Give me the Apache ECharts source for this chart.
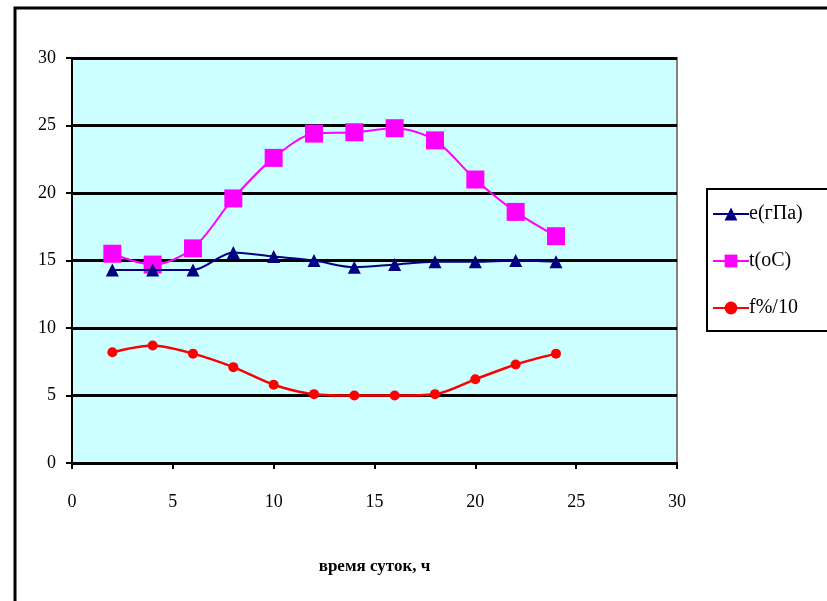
<!DOCTYPE html>
<html><head><meta charset="utf-8">
<script src="https://cdn.jsdelivr.net/npm/echarts@6/dist/echarts.min.js"></script>
<style>html,body{margin:0;padding:0;background:#fff}#c{width:827px;height:601px}</style>
</head><body><div id="c"></div>
<script>
const hours = [2,4,6,8,10,12,14,16,18,20,22,24];
const eVals = [14.3,14.3,14.3,15.6,15.3,15.0,14.5,14.7,14.9,14.9,15.0,14.9];
const tVals = [15.5,14.7,15.9,19.6,22.6,24.4,24.5,24.8,23.9,21.0,18.6,16.8];
const fVals = [8.2,8.7,8.1,7.1,5.8,5.1,5.0,5.0,5.1,6.2,7.3,8.1];
const axisTicks = [0,5,10,15,20,25,30];
const names = ['e(гПа)','t(oC)','f%/10'];
const xTitle = 'время суток, ч';

const pair = v => hours.map((h,i)=>[h,v[i]]);
const font = 'Liberation Serif';
const chart = echarts.init(document.getElementById('c'));
chart.setOption({
  animation:false,
  textStyle:{fontFamily:font},
  graphic:[
    {type:'rect',shape:{x:15,y:8,width:830,height:620},style:{fill:'none',stroke:'#000',lineWidth:3},z:-1}
  ],
  grid:{left:72,top:58,width:605,height:405,show:true,backgroundColor:'#ccffff',borderColor:'#808080',borderWidth:2},
  legend:{
    orient:'vertical',left:707,top:189,
    itemWidth:36,itemHeight:16,itemGap:27,
    padding:[15,40,13,5],
    borderColor:'#000',borderWidth:2,backgroundColor:'#fff',
    textStyle:{fontFamily:font,fontSize:20,color:'#000',padding:[0,0,0,-5]},
    data:names
  },
  xAxis:{
    type:'value',min:0,max:30,interval:5,
    name:xTitle,nameLocation:'middle',nameGap:95,
    nameTextStyle:{fontFamily:font,fontSize:17,fontWeight:'bold',color:'#000'},
    axisLine:{lineStyle:{color:'#000',width:2}},
    axisTick:{show:true,length:6,lineStyle:{color:'#000',width:2}},
    axisLabel:{fontFamily:font,fontSize:18,color:'#000',margin:30},
    splitLine:{show:false}
  },
  yAxis:{
    type:'value',min:0,max:30,interval:5,
    axisLine:{show:true,lineStyle:{color:'#000',width:2}},
    axisTick:{show:true,length:6,lineStyle:{color:'#000',width:2}},
    axisLabel:{fontFamily:font,fontSize:18,color:'#000',margin:16},
    splitLine:{lineStyle:{color:'#000',width:3}}
  },
  series:[
    {name:names[0],type:'line',data:pair(eVals),smooth:0.3,symbol:'triangle',symbolSize:13,
     lineStyle:{color:'#000080',width:2},itemStyle:{color:'#000080'},z:3},
    {name:names[1],type:'line',data:pair(tVals),smooth:0.3,symbol:'rect',symbolSize:18,
     lineStyle:{color:'#ff00ff',width:2},itemStyle:{color:'#ff00ff'},z:2},
    {name:names[2],type:'line',data:pair(fVals),smooth:0.3,symbol:'circle',symbolSize:10,
     lineStyle:{color:'#ff0000',width:2.5},itemStyle:{color:'#ff0000'},z:4}
  ]
});
</script></body></html>
